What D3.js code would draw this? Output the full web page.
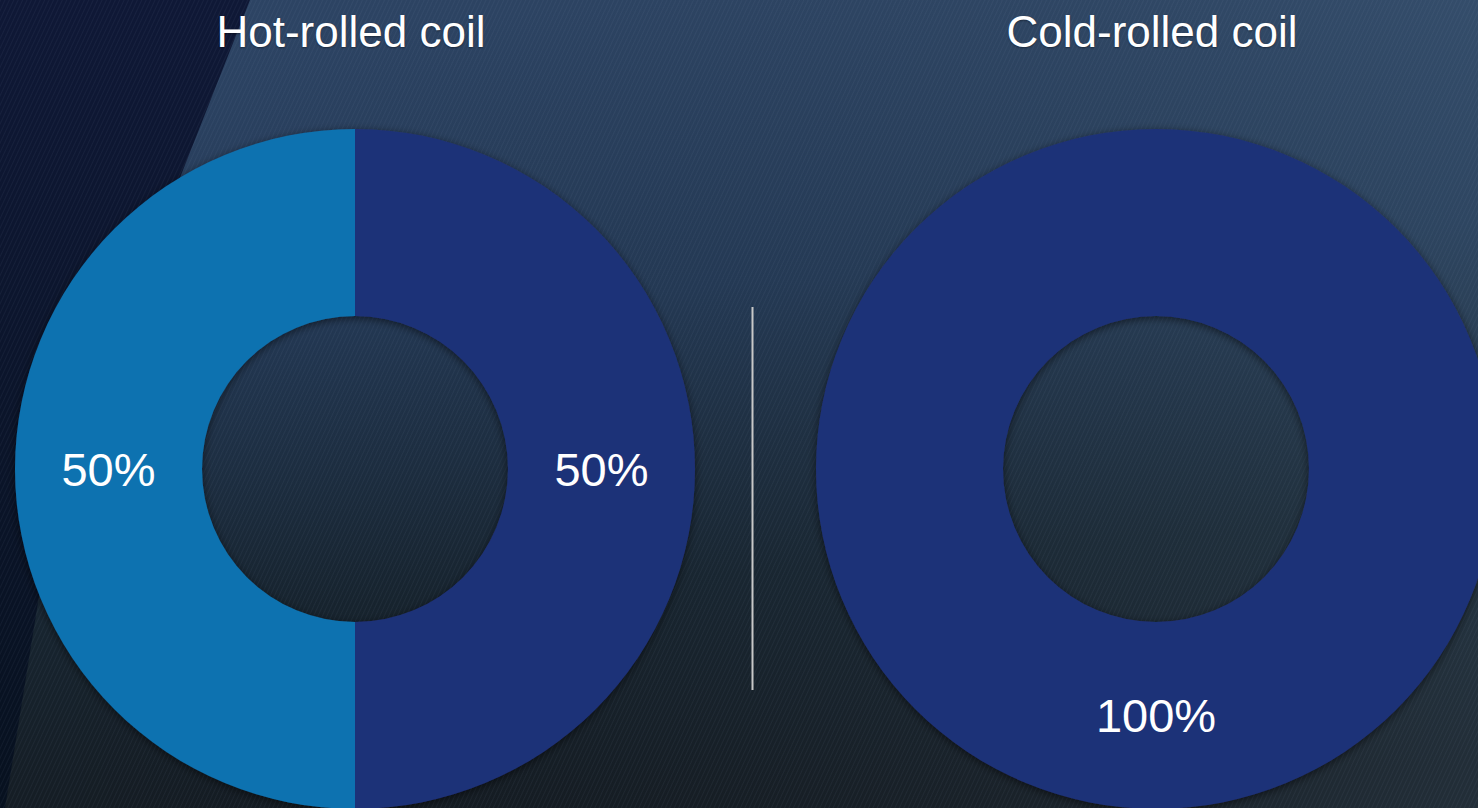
<!DOCTYPE html>
<html>
<head>
<meta charset="utf-8">
<script src="https://cdn.jsdelivr.net/npm/d3@7"></script>
<style>
html,body{margin:0;padding:0;background:#0e1834;overflow:hidden;}
svg{display:block;}
text{font-family:"Liberation Sans","Helvetica Neue",Arial,sans-serif;fill:#ffffff;}
</style>
</head>
<body>
<svg id="chart" width="1478" height="808"></svg>
<script>
// ---- data ----
const charts = ["Hot-rolled coil", "Cold-rolled coil"];
const segments = ["Segment A", "Segment B"];
const hotValues = [50, 50];     // dark blue (right), light blue (left)
const coldValues = [100, 0];
const segmentColors = ["#1f3178", "#0f72b0"];

const W = 1478, H = 808;
const svg = d3.select("#chart");
const defs = svg.append("defs");

// background gradients
const g1 = defs.append("linearGradient").attr("id","bandGrad")
  .attr("x1","0.45").attr("y1","0").attr("x2","0.6").attr("y2","1");
g1.append("stop").attr("offset","0").attr("stop-color","#2e4667");
g1.append("stop").attr("offset","0.35").attr("stop-color","#243a57");
g1.append("stop").attr("offset","0.7").attr("stop-color","#17242f");
g1.append("stop").attr("offset","1").attr("stop-color","#141a20");

const g2 = defs.append("linearGradient").attr("id","leftGrad")
  .attr("x1","0").attr("y1","0").attr("x2","0").attr("y2","1");
g2.append("stop").attr("offset","0").attr("stop-color","#0f1836");
g2.append("stop").attr("offset","1").attr("stop-color","#07111f");

const g3 = defs.append("linearGradient").attr("id","rightGrad")
  .attr("x1","0").attr("y1","0").attr("x2","1").attr("y2","0");
g3.append("stop").attr("offset","0").attr("stop-color","#000").attr("stop-opacity","0");
g3.append("stop").attr("offset","1").attr("stop-color","#4d6a80").attr("stop-opacity","0.25");

// texture pattern
const pat = defs.append("pattern").attr("id","tex")
  .attr("patternUnits","userSpaceOnUse").attr("width",4).attr("height",4)
  .attr("patternTransform","rotate(25)");
pat.append("line").attr("x1",0).attr("y1",0).attr("x2",0).attr("y2",4)
  .attr("stroke","#9fb6cf").attr("stroke-width",1).attr("stroke-opacity",0.12);

// shadow filter
const f = defs.append("filter").attr("id","shadow").attr("x","-20%").attr("y","-20%").attr("width","140%").attr("height","140%");
f.append("feDropShadow").attr("dx",0).attr("dy",2).attr("stdDeviation",4)
  .attr("flood-color","#000").attr("flood-opacity",0.55);

svg.append("rect").attr("width",W).attr("height",H).attr("fill","url(#leftGrad)");
svg.append("path")
  .attr("d","M250,0 L1478,0 L1478,808 L5,808 L40,590 L120,330 Z")
  .attr("fill","url(#bandGrad)");
svg.append("path")
  .attr("d","M250,0 L1478,0 L1478,808 L5,808 L40,590 L120,330 Z")
  .attr("fill","url(#rightGrad)");
svg.append("rect").attr("width",W).attr("height",H).attr("fill","url(#tex)");

// layout
const centers = [355, 1156];
const cy = 469;
const outerR = 340, innerR = 153;
const x = d3.scaleOrdinal().domain(charts).range(centers);
const color = d3.scaleOrdinal().domain(segments).range(segmentColors);

const pie = d3.pie().sort(null).value(d => d.value);
const arc = d3.arc().innerRadius(innerR).outerRadius(outerR);
const labelArc = d3.arc().innerRadius(innerR).outerRadius(outerR);

const datasets = [hotValues, coldValues];

charts.forEach((name, i) => {
  const data = segments.map((s, j) => ({segment: s, value: datasets[i][j]}));
  const g = svg.append("g").attr("transform", `translate(${x(name)},${cy})`);
  const arcs = pie(data).filter(d => d.data.value > 0);
  g.append("g").attr("filter","url(#shadow)")
    .selectAll("path").data(arcs).join("path")
    .attr("d", arc)
    .attr("fill", d => color(d.data.segment));
  g.selectAll("text.lbl").data(arcs).join("text")
    .attr("class","lbl")
    .attr("transform", d => `translate(${labelArc.centroid(d)})`)
    .attr("text-anchor","middle")
    .attr("dy","0.36em")
    .attr("font-size", 47)
    .text(d => d.data.value + "%");
  svg.append("text")
    .attr("x", x(name) - 4)
    .attr("y", 47)
    .attr("text-anchor","middle")
    .attr("font-size", 44)
    .style("text-shadow","0 1px 2px rgba(0,0,0,0.4)")
    .text(name);
});

// divider
svg.append("line")
  .attr("x1",752.5).attr("x2",752.5).attr("y1",307).attr("y2",690)
  .attr("stroke","#c8c8c8").attr("stroke-width",2);
</script>
</body>
</html>
